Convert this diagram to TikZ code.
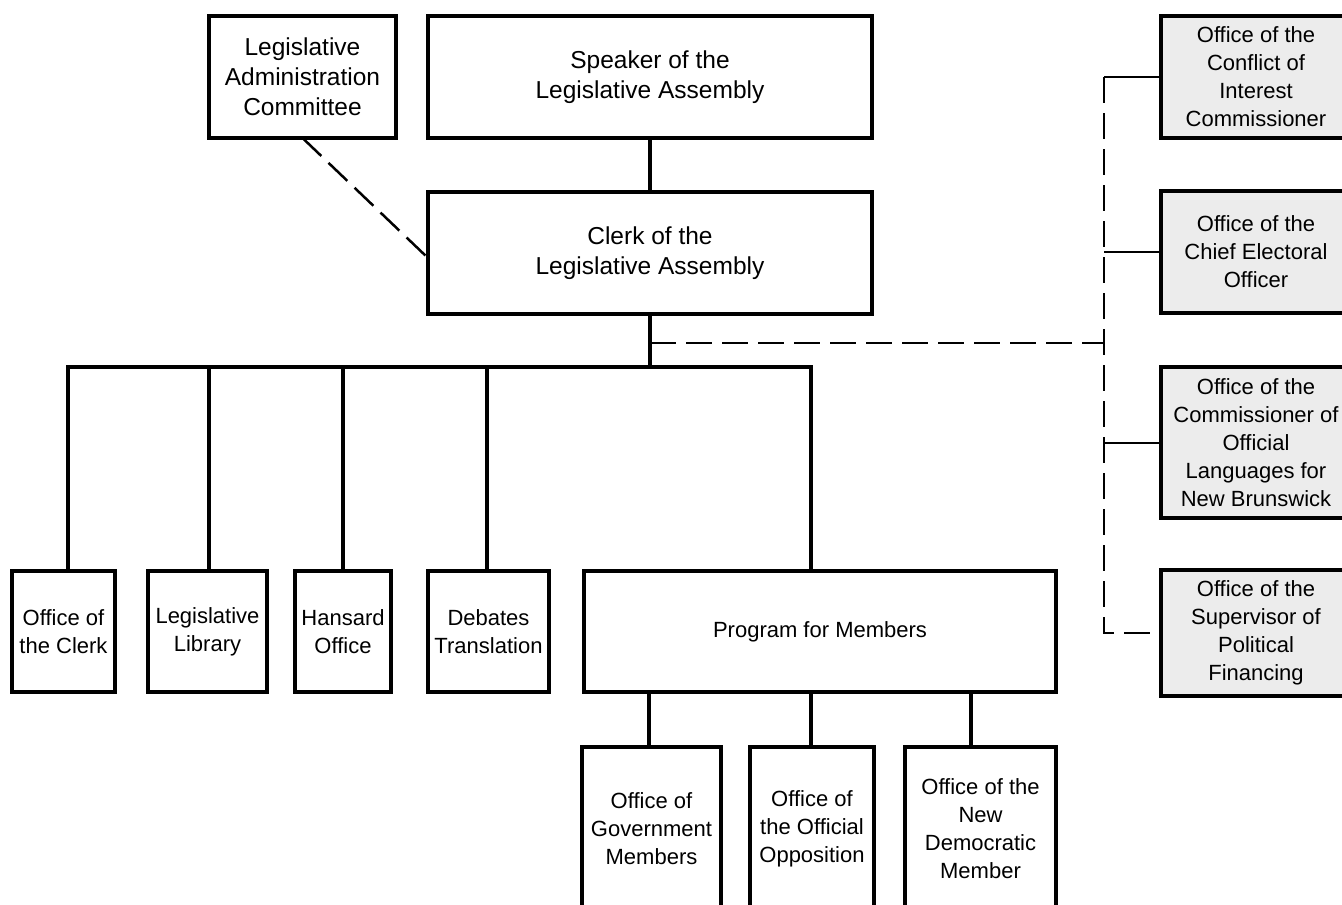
\documentclass[tikz,border=0pt]{standalone}
\usepackage{fontspec}
\setmainfont{Liberation Sans}
\usetikzlibrary{positioning}
\tikzset{
  unit/.style={draw, line width=4pt, align=center, inner sep=0pt, outer sep=0pt,
    font=\fontsize{22}{28}\selectfont},
  bigunit/.style={unit, font=\fontsize{24.5}{30}\selectfont},
  agency/.style={unit, fill=gray!15},
  link/.style={line width=4pt},
  sublink/.style={line width=2pt},
  dashlink/.style={line width=2.5pt, dash pattern=on 26pt off 10pt},
}
\begin{document}
\begin{tikzpicture}[x=1pt, y=-1pt]
\useasboundingbox (0,0) rectangle (1342,905);
% top of the chart
\node[bigunit, minimum width=187pt, minimum height=122pt] (lac) at (302.5,77) {Legislative\\Administration\\Committee};
\node[bigunit, minimum width=444pt, minimum height=122pt] (speaker) at (650,77) {Speaker of the\\Legislative Assembly};
\node[bigunit, minimum width=444pt, minimum height=122pt] (clerk) at (650,253) {Clerk of the\\Legislative Assembly};
% branches under the clerk
\foreach \n/\x/\w/\t in {oc/63.5/103/{Office of\\the Clerk}, lib/207.5/119/{Legislative\\Library},
    han/343/96/{Hansard\\Office}, deb/488.5/121/{Debates\\Translation}, pm/820/472/{Program for Members}}
  \node[unit, minimum width=\w pt, minimum height=121pt] (\n) at (\x,631.5) {\t};
% members' offices
\foreach \n/\x/\w/\t in {gov/651.5/139/{Office of\\Government\\Members}, opp/812/124/{Office of\\the Official\\Opposition},
    ndp/980.5/151/{Office of the\\New\\Democratic\\Member}}
  \node[unit, minimum width=\w pt, minimum height=164pt] (\n) at (\x,829) {\t};
% independent offices
\node[agency, minimum width=190pt, minimum height=122pt] (coi) at (1256,77) {Office of the\\Conflict of\\Interest\\Commissioner};
\node[agency, minimum width=190pt, minimum height=122pt] (ceo) at (1256,252) {Office of the\\Chief Electoral\\Officer};
\node[agency, minimum width=190pt, minimum height=151pt] (ol) at (1256,442.5) {Office of the\\Commissioner of\\Official\\Languages for\\New Brunswick};
\node[agency, minimum width=190pt, minimum height=126pt] (spf) at (1256,633) {Office of the\\Supervisor of\\Political\\Financing};
% connectors
\coordinate (bus) at (650,367);
\coordinate (tap) at (650,343);
\coordinate (rail) at (1104,0);
\draw[link] (speaker) -- (clerk);
\draw[link] (clerk.south) -- (bus);
\draw[link] ([xshift=4.5pt]oc.north) |- (bus) -| ([xshift=-9pt]pm.north);
\foreach \n/\s in {lib/1.5,han/0,deb/-1.5}
  \draw[link] ([xshift=\s pt]\n.north) -- ([xshift=\s pt]\n.north |- bus);
\foreach \n/\s in {gov/-2.5, opp/-1, ndp/-9.5}
  \draw[link] ([xshift=\s pt]\n.north) -- ([xshift=\s pt]\n.north |- pm.south);
\draw[dashlink] (lac.south) -- ([yshift=-5pt]clerk.west);
\draw[dashlink] (tap) -- (tap -| rail);
\draw[dashlink] (coi.west -| rail) |- (spf.west);
\foreach \n in {coi,ceo,ol}
  \draw[sublink] (\n.west) -- (\n.west -| rail);
\end{tikzpicture}
\end{document}
